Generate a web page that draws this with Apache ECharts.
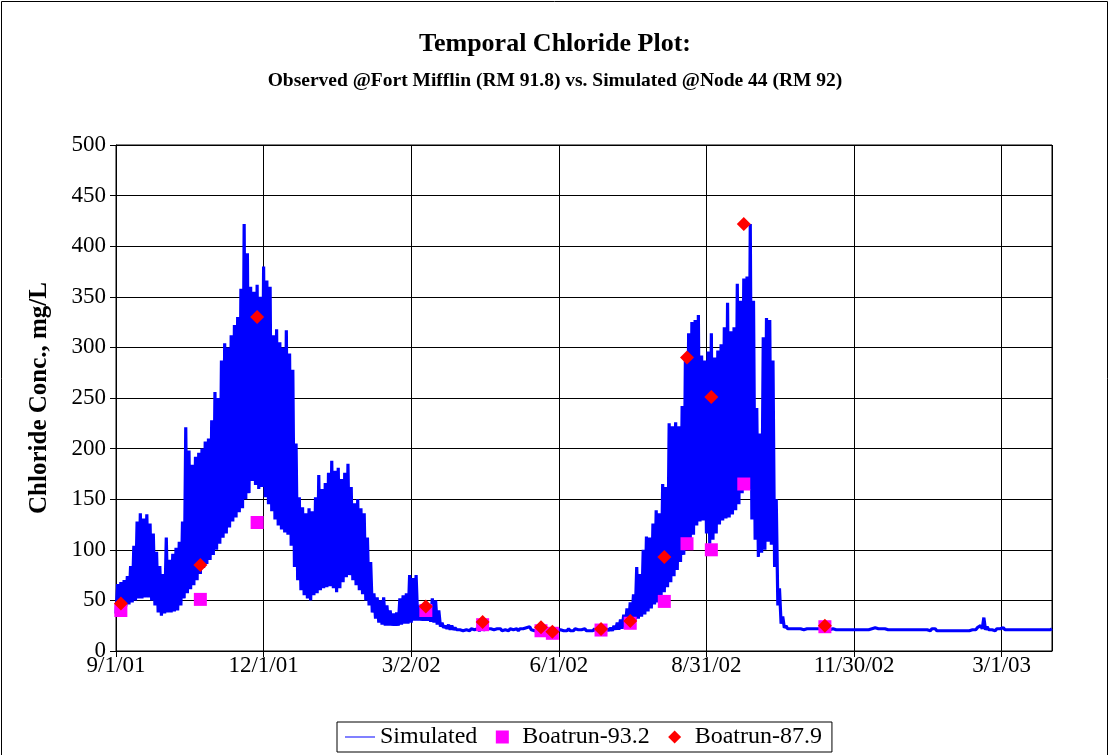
<!DOCTYPE html>
<html>
<head>
<meta charset="utf-8">
<script src="https://cdn.jsdelivr.net/npm/echarts@6/dist/echarts.min.js"></script>
<style>
html,body{margin:0;padding:0;background:#fff;}
#chart{width:1110px;height:755px;}
</style>
</head>
<body>
<div id="chart"></div>
<script>
// ---- DATA ----
const titleText = 'Temporal Chloride Plot:';
const subtitleText = 'Observed @Fort Mifflin (RM 91.8) vs. Simulated @Node 44 (RM 92)';
const yAxisTitle = 'Chloride Conc., mg/L';
const seriesNames = ['Simulated', 'Boatrun-93.2', 'Boatrun-87.9'];

// x values are days after 9/1/01
const xTickLabels = ['9/1/01', '12/1/01', '3/2/02', '6/1/02', '8/31/02', '11/30/02', '3/1/03'];
const xTickStepDays = 91;
const xMaxDays = 577;
const yTickLabels = [0, 50, 100, 150, 200, 250, 300, 350, 400, 450, 500];

// Simulated (tidal) series: low-water value on even days (2k), high-water value on odd days (2k+1)
const simLow = [
  37,40,42,44,46,48,50,52,52,53,
  53,50,45,38,35,37,38,38,39,40,
  45,52,57,61,65,70,76,82,86,90,
  95,100,106,112,116,122,128,132,137,141,
  150,156,168,164,160,162,152,145,138,130,
  124,120,117,115,104,83,70,60,55,52,
  50,55,57,60,62,63,64,62,58,62,
  68,73,75,70,65,60,56,50,45,38,
  32,28,26,25,25,25,25,25,26,27,
  27,28,30,30,30,30,30,29,28,26,
  24,23,22,21,21,21,21,20,21,20,
  21,21,20,21,20,21,21,20,21,20,
  21,20,21,21,20,21,21,22,21,20,
  20,21,20,20,21,20,20,21,20,20,
  20,20,21,20,20,20,20,20,20,20,
  20,20,20,20,21,21,22,24,26,28,
  30,32,34,36,39,42,46,48,52,58,
  63,68,74,80,88,95,102,108,115,124,
  128,129,116,106,110,116,125,129,131,132,
  135,139,145,156,169,160,130,110,93,97,
  100,108,105,83,45,27,23,22,22,22,
  22,22,21,22,22,22,22,22,22,22,
  21,22,21,21,21,21,21,21,21,21,
  21,21,21,22,23,22,22,22,21,21,
  21,21,21,21,21,21,21,21,21,21,
  21,20,21,20,20,20,20,20,20,20,
  20,20,20,20,21,21,22,22,21,21,
  21,20,21,21,21,21,21,21,21,21,
  21,21,21,21,21,21,21,21,21
];
const simHigh = [
  66,68,70,74,84,104,128,136,131,135,
  126,116,98,84,76,112,90,96,102,108,
  128,221,198,184,192,196,200,207,210,228,
  256,250,287,304,300,312,322,330,358,422,
  393,360,355,362,350,380,366,360,312,318,
  305,300,317,294,278,205,152,142,136,141,
  138,152,174,160,166,176,188,178,181,170,
  176,185,162,146,150,141,136,112,88,57,
  53,50,53,45,40,37,38,52,55,57,
  75,72,75,45,38,40,36,52,50,40,
  28,25,26,25,23,22,22,21,22,22,
  21,22,22,21,22,22,21,22,22,21,
  22,22,21,22,22,22,23,24,22,21,
  22,21,22,21,22,22,21,22,21,22,
  21,22,21,21,22,21,21,22,21,21,
  22,22,23,25,28,31,36,42,48,56,
  83,76,100,113,112,126,139,136,165,162,
  225,222,226,222,242,290,314,325,327,332,
  292,287,296,314,290,297,303,320,344,316,
  320,363,346,368,370,422,346,240,215,310,
  329,327,287,150,62,34,25,23,23,22,
  22,23,22,22,23,23,23,22,23,22,
  22,22,22,22,22,22,22,22,22,22,
  22,22,22,23,24,23,23,22,22,22,
  22,22,22,22,22,22,22,22,22,22,
  22,22,22,21,21,21,21,21,21,21,
  21,21,21,21,22,23,25,33,24,22,
  22,22,22,23,22,22,22,22,22,22,
  22,22,22,22,22,22,22,22,22
];

// Observations (days after 9/1/01)
const obsDays = [3, 52, 87, 191, 226, 262, 269, 299, 317, 338, 352, 367, 387, 437];
const obs932 = [40, 51, 127, 40, 26, 20, 17.5, 20.7, 27.4, 49, 106, 100, 165, 24];
const obs879 = [47, 85, 330, 44, 28.6, 23.4, 19, 21.7, 29.6, 93, 290, 251, 422, 25];

// ---- BUILD ----
const simData = [];
for (let k = 0; k < simLow.length; k++) {
  simData.push([2 * k, simLow[k]]);
  simData.push([2 * k + 1, simHigh[k]]);
}
const d932 = obsDays.map((d, i) => [d, obs932[i]]);
const d879 = obsDays.map((d, i) => [d, obs879[i]]);

const FONT = "'Liberation Serif', 'Times New Roman', serif";
// legend icons padded to a 30x13 box so the marker keeps its own size
const iconLine = 'path://M0,0 M30,13 M0,6 L30,6 L30,7 L0,7 Z';
const iconSquare = 'path://M0,0 M30,13 M8.5,0 L21.5,0 L21.5,13 L8.5,13 Z';
const iconDiamond = 'path://M0,0 M30,13 M15,0 L21.5,6.5 L15,13 L8.5,6.5 Z';

const chart = echarts.init(document.getElementById('chart'), null, {renderer: 'canvas'});
chart.setOption({
  animation: false,
  backgroundColor: '#fff',
  title: [
    {text: titleText, left: 'center', top: 26,
     textStyle: {fontFamily: FONT, fontWeight: 'bold', fontSize: 26, color: '#000'}},
    {text: subtitleText, left: 'center', top: 66,
     textStyle: {fontFamily: FONT, fontWeight: 'bold', fontSize: 19.5, color: '#000'}}
  ],
  graphic: [{
    type: 'rect', shape: {x: 1.5, y: 1.5, width: 1106, height: 800},
    style: {fill: 'none', stroke: '#000', lineWidth: 1}, silent: true, z: -1
  }],
  legend: {
    left: 337, top: 722,
    padding: [3, 10, 3, 8],
    itemGap: 10, itemWidth: 30, itemHeight: 13,
    borderColor: '#000', borderWidth: 1, borderRadius: 0,
    backgroundColor: '#fff',
    textStyle: {fontFamily: FONT, fontSize: 24, color: '#000'},
    data: [
      {name: seriesNames[0], icon: iconLine},
      {name: seriesNames[1], icon: iconSquare},
      {name: seriesNames[2], icon: iconDiamond}
    ]
  },
  grid: {left: 116, right: 58, top: 145, bottom: 104, show: true, borderColor: '#000', borderWidth: 1,
         backgroundColor: '#fff', containLabel: false, outerBoundsMode: 'none'},
  xAxis: {
    type: 'value', min: 0, max: xMaxDays, interval: xTickStepDays,
    axisLine: {show: true, lineStyle: {color: '#000', width: 1}},
    axisTick: {show: true, inside: false, length: 6, lineStyle: {color: '#000'}},
    axisLabel: {
      fontFamily: FONT, fontSize: 23, color: '#000', margin: 3, showMaxLabel: false, hideOverlap: false,
      formatter: v => (v % xTickStepDays === 0 ? (xTickLabels[v / xTickStepDays] || '') : '')
    },
    splitLine: {show: true, lineStyle: {color: '#000', width: 1}}
  },
  yAxis: {
    type: 'value', min: yTickLabels[0], max: yTickLabels[yTickLabels.length - 1], interval: 50,
    name: yAxisTitle, nameLocation: 'middle', nameGap: 64, nameRotate: 90, nameMoveOverlap: false,
    nameTextStyle: {fontFamily: FONT, fontWeight: 'bold', fontSize: 25, color: '#000'},
    axisLine: {show: true, lineStyle: {color: '#000', width: 1}},
    axisTick: {show: true, inside: false, length: 6, lineStyle: {color: '#000'}},
    axisLabel: {fontFamily: FONT, fontSize: 23, color: '#000', margin: 10},
    splitLine: {show: true, lineStyle: {color: '#000', width: 1}}
  },
  series: [
    {name: seriesNames[0], type: 'line', data: simData, symbol: 'none', showSymbol: false,
     sampling: null, clip: true,
     lineStyle: {color: '#0000FF', width: 3.2}, itemStyle: {color: '#0000FF'}, z: 2},
    {name: seriesNames[1], type: 'scatter', data: d932, symbol: 'rect', symbolSize: 13,
     itemStyle: {color: '#FF00FF', opacity: 1}, z: 3},
    {name: seriesNames[2], type: 'scatter', data: d879, symbol: 'diamond', symbolSize: 14,
     itemStyle: {color: '#FF0000', opacity: 1}, z: 4}
  ]
});
</script>
</body>
</html>
